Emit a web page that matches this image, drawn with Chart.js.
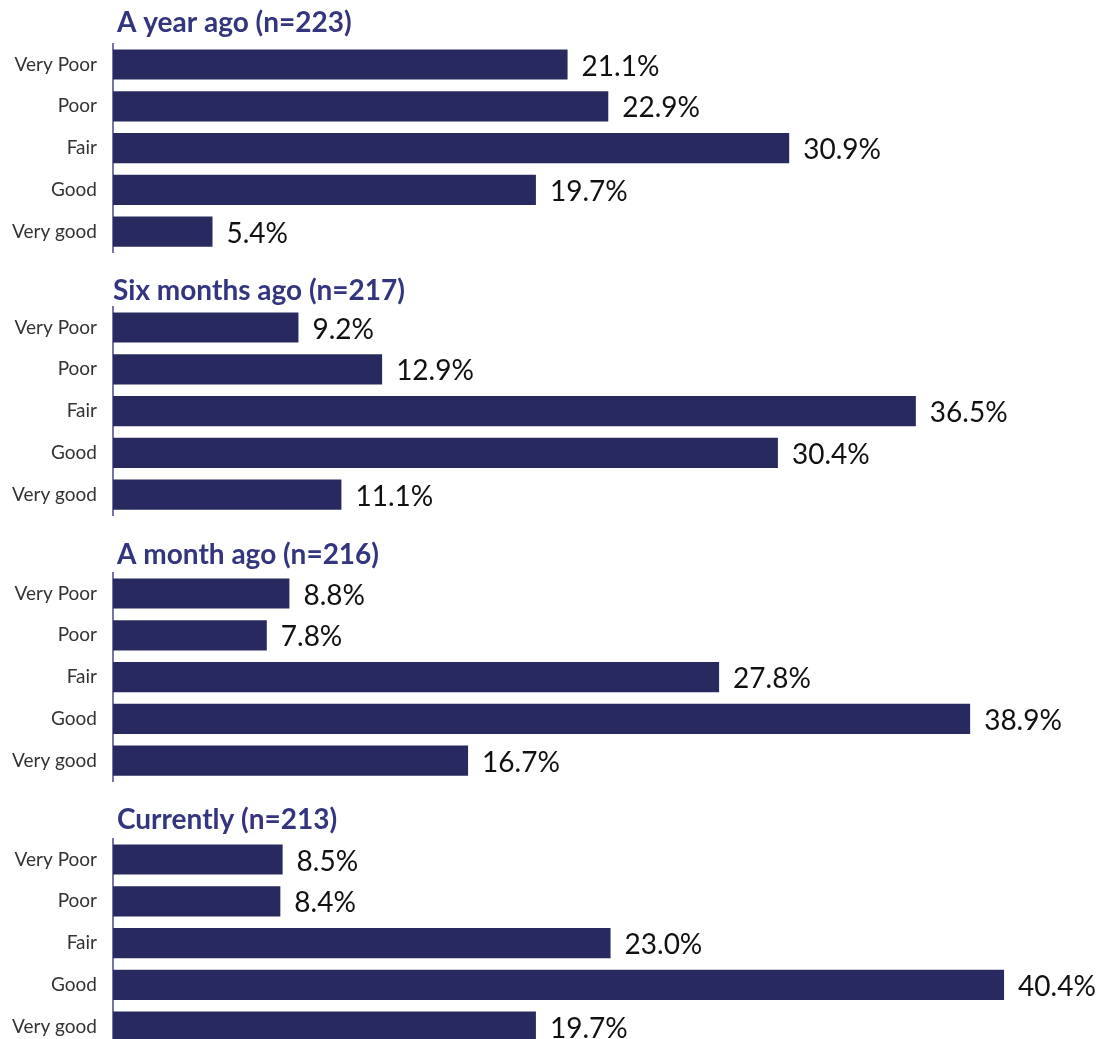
<!DOCTYPE html>
<html>
<head>
<meta charset="utf-8">
<title>Ratings over time</title>
<script src="https://cdn.jsdelivr.net/npm/chart.js@4/dist/chart.umd.min.js"></script>
<style>
  html, body { margin: 0; padding: 0; background: #ffffff; }
  body { width: 1096px; height: 1039px; overflow: hidden; position: relative; }
  .panel { position: absolute; left: 0; width: 1096px; height: 281px; }
  .panel canvas { display: block; }
</style>
</head>
<body>
<div class="panel" id="p0"><canvas id="c0" width="1096" height="281"></canvas></div>
<div class="panel" id="p1"><canvas id="c1" width="1096" height="281"></canvas></div>
<div class="panel" id="p2"><canvas id="c2" width="1096" height="281"></canvas></div>
<div class="panel" id="p3"><canvas id="c3" width="1096" height="281"></canvas></div>
<script>
// Rating categories shared by every panel
const categories = ['Very Poor', 'Poor', 'Fair', 'Good', 'Very good'];

// Panel headings
const panelTitles = [
  'A year ago (n=223)',
  'Six months ago (n=217)',
  'A month ago (n=216)',
  'Currently (n=213)'
];

// Share of respondents (%) per rating
const yearAgo      = [21.1, 22.9, 30.9, 19.7, 5.4];
const sixMonthsAgo = [9.2, 12.9, 36.5, 30.4, 11.1];
const monthAgo     = [8.8, 7.8, 27.8, 38.9, 16.7];
const currently    = [8.5, 8.4, 23.0, 40.4, 19.7];

const seriesList = [yearAgo, sixMonthsAgo, monthAgo, currently];

// Page layout for each panel: vertical offset, title padding, title indent
const panelTops = [-1, 262, 528, 794];
const titlePads = [[7, 4], [12, -1], [10, 1], [9, 2]];
const titleIndents = [4, 0, 4, 4];

const BAR_COLOR = '#282a5f';
const TITLE_COLOR = '#33357f';
const FONT = 'Lato, "Noto Sans", sans-serif';

// Writes the percentage just past the end of each bar
const valueLabels = {
  id: 'valueLabels',
  afterDatasetsDraw(chart) {
    const ctx = chart.ctx;
    const meta = chart.getDatasetMeta(0);
    const data = chart.data.datasets[0].data;
    ctx.save();
    ctx.font = '28px ' + FONT;
    ctx.fillStyle = '#111111';
    ctx.textAlign = 'left';
    ctx.textBaseline = 'middle';
    meta.data.forEach((bar, i) => {
      ctx.fillText(data[i].toFixed(1) + '%', bar.x + 14, bar.y + 2);
    });
    ctx.restore();
  }
};

// Nudges the heading slightly right of the axis line
const titleIndent = {
  id: 'titleIndent',
  afterLayout(chart, args, opts) {
    if (chart.titleBlock) {
      chart.titleBlock.left += opts.shift || 0;
      chart.titleBlock.right += opts.shift || 0;
    }
  }
};

seriesList.forEach((values, idx) => {
  const panel = document.getElementById('p' + idx);
  panel.style.top = panelTops[idx] + 'px';
  new Chart(document.getElementById('c' + idx), {
    type: 'bar',
    data: {
      labels: categories,
      datasets: [{
        data: values,
        backgroundColor: BAR_COLOR,
        borderWidth: 0,
        categoryPercentage: 1,
        barPercentage: 30 / 41.5
      }]
    },
    options: {
      indexAxis: 'y',
      responsive: false,
      animation: false,
      devicePixelRatio: 1,
      layout: { padding: { left: 0, right: 6, top: 0, bottom: 3 } },
      plugins: {
        legend: { display: false },
        tooltip: { enabled: false },
        titleIndent: { shift: titleIndents[idx] },
        title: {
          display: true,
          text: panelTitles[idx],
          align: 'start',
          fullSize: false,
          color: TITLE_COLOR,
          font: { family: FONT, size: 28, weight: 'bold', lineHeight: 1.2 },
          padding: { top: titlePads[idx][0], bottom: titlePads[idx][1] }
        }
      },
      scales: {
        x: {
          display: false,
          min: 1,
          max: 44.2
        },
        y: {
          afterFit(scale) { scale.width = 113; },
          grid: { display: false, drawTicks: false },
          border: { display: true, color: '#7476a8', width: 2 },
          ticks: {
            padding: 16,
            color: '#333333',
            font: { family: FONT, size: 19 }
          }
        }
      }
    },
    plugins: [valueLabels, titleIndent]
  });
});
</script>
</body>
</html>
